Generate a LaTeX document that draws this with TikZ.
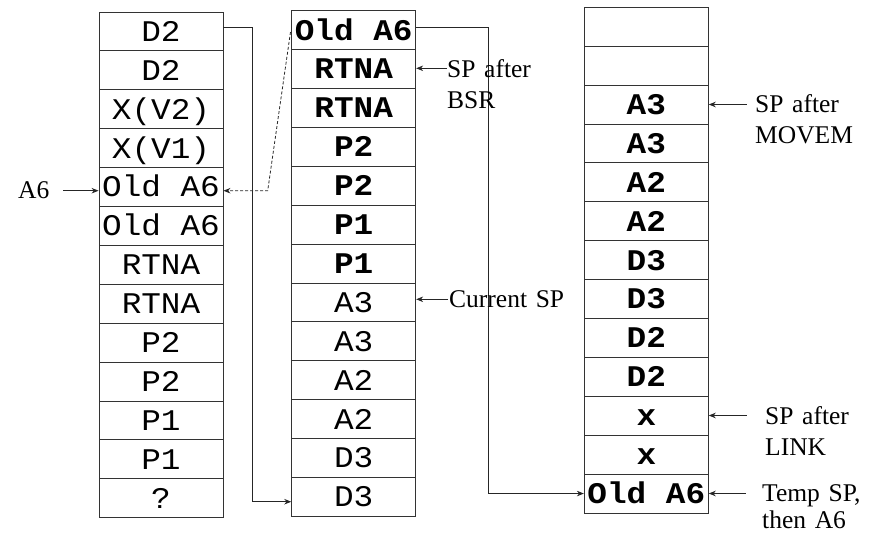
\documentclass[tikz,border=0pt]{standalone}
\usepackage{fontspec}
\setmainfont{Liberation Serif}
\newfontfamily\cour[FakeStretch=1.09]{Liberation Mono}
\usetikzlibrary{arrows.meta,calc}
\newlength\capht
\newcommand\lblfont{\fontsize{25.5}{30}\selectfont\spaceskip 0.34em plus 0.1em\relax}
\tikzset{
  cell/.style={draw=black!80, line width=0.9pt, minimum width=124pt, minimum height=38.9pt,
    inner sep=0pt, text height=\capht, text depth=0pt, font=\cour\fontsize{30}{36}\selectfont},
  bcell/.style={cell, font=\cour\bfseries\fontsize{30}{36}\selectfont},
  lbl/.style={inner sep=0pt, font=\lblfont, anchor=base west},
  arr/.style={draw=black!85, line width=0.8pt, -{Stealth[length=7pt,width=5.5pt]}},
}
\begin{document}
\settoheight{\capht}{\cour\fontsize{30}{36}\selectfont D}
\begin{tikzpicture}[x=1pt,y=1pt]
\useasboundingbox (0,0) rectangle (882,-533);
% left column
\foreach \t [count=\i] in {D2,D2,X(V2),X(V1),Old A6,Old A6,RTNA,RTNA,P2,P2,P1,P1,?}
  \node[cell] (L\i) at (161,{-(12+38.9*(\i-0.5))}) {\t};
% middle column
\foreach \t [count=\i] in {Old A6,RTNA,RTNA,P2,P2,P1,P1}
  \node[bcell] (M\i) at (353.7,{-(10.7+38.9*(\i-0.5))}) {\t};
\foreach \t [count=\j from 8] in {A3,A3,A2,A2,D3,D3}
  \node[cell] (M\j) at (353.7,{-(10.7+38.9*(\j-0.5))}) {\t};
% right column
\foreach \t [count=\i] in {{},{},A3,A3,A2,A2,D3,D3,D2,D2,x,x,Old A6}
  \node[bcell] (R\i) at (646.3,{-(7.3+38.9*(\i-0.5))}) {\t};

% connectors between columns
\coordinate (c1) at (252.3,-27.3);
\coordinate (c1b) at (252.3,-501.7);
\draw[arr] (c1 -| L1.east) -- (c1) -- (c1b) -- (c1b -| M13.west);
\coordinate (c2) at (488.7,-27.3);
\draw[arr] (c2 -| M1.east) -- (c2) |- (R13.west);
\coordinate (d1) at (290.5,-32);
\coordinate (d2) at (267.7,-190.7);
\draw[arr, dash pattern=on 3pt off 2pt] (d1) -- (d2) -- (d2 -| L5.east);

% A6 label
\node[lbl] (a6) at (18,-198.5) {A6};
\coordinate (a6s) at (63,-190.7);
\draw[arr] (a6s) -- (a6s -| L5.west);

% SP after BSR
\node[lbl] (bsr1) at (447,-77) {SP after};
\node[lbl] (bsr2) at (447,-108) {BSR};
\coordinate (bsrs) at (446.7,-68.3);
\draw[arr] (bsrs) -- (bsrs -| M2.east);

% Current SP
\node[lbl] (cur) at (449,-307.5) {Current SP};
\coordinate (curs) at (448,-299.3);
\draw[arr] (curs) -- (curs -| M8.east);

% SP after MOVEM
\node[lbl] (mov1) at (755,-112.3) {SP after};
\node[lbl] (mov2) at (755,-143.3) {MOVEM};
\coordinate (movs) at (746.7,-104.5);
\draw[arr] (movs) -- (movs -| R3.east);

% SP after LINK
\node[lbl] (lnk1) at (765,-424) {SP after};
\node[lbl] (lnk2) at (765,-455) {LINK};
\coordinate (lnks) at (746.7,-415.5);
\draw[arr] (lnks) -- (lnks -| R11.east);

% Temp SP, then A6
\node[lbl] (tmp1) at (762,-501) {Temp SP,};
\node[lbl] (tmp2) at (762,-528.5) {then A6};
\coordinate (tmps) at (745.7,-493.5);
\draw[arr] (tmps) -- (tmps -| R13.east);
\end{tikzpicture}
\end{document}
